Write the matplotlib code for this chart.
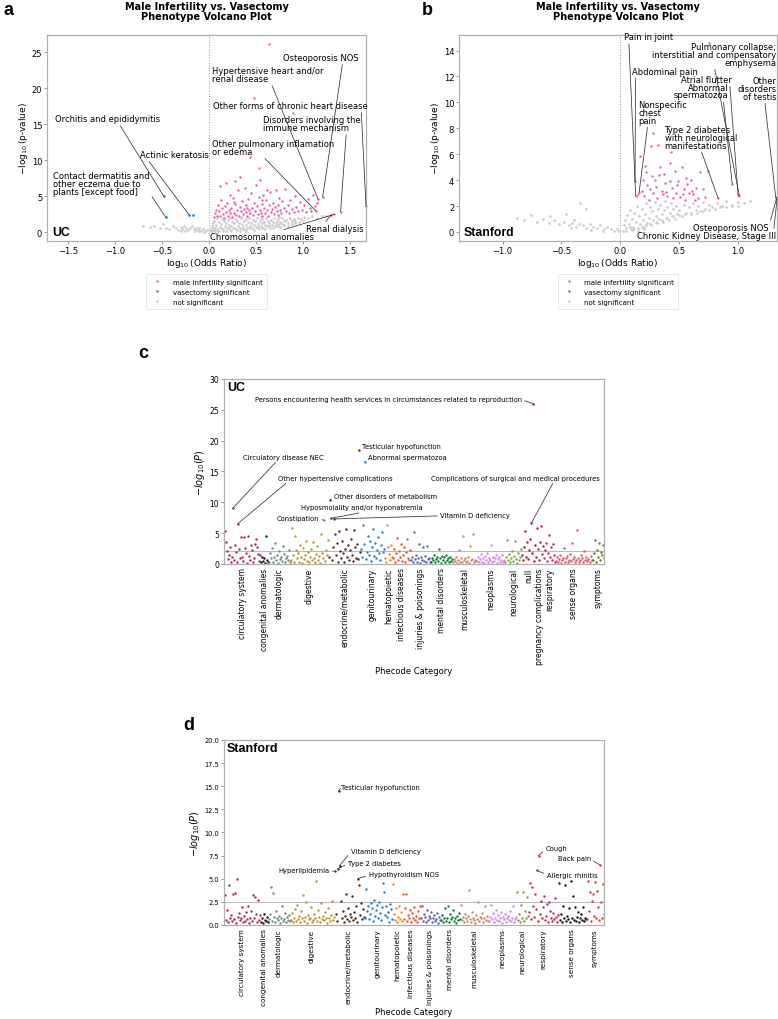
import matplotlib
matplotlib.use("Agg")
import matplotlib.pyplot as plt
import numpy as np

# ---------------- volcano data (log10 OR, -log10 p) ----------------
a_gray = [(-0.70, 0.8), (-0.62, 0.7), (-0.58, 0.9), (-0.52, 0.5), (-0.49, 1.1), (-0.45, 0.6), (-0.42, 0.4),
          (-0.38, 0.8), (-0.35, 0.5), (-0.33, 0.3), (-0.30, 0.7), (-0.28, 0.4), (-0.26, 0.9), (-0.24, 0.6),
          (-0.22, 0.3), (-0.20, 0.5), (-0.18, 0.8), (-0.16, 0.4), (-0.14, 0.6), (-0.12, 0.3), (-0.10, 0.5),
          (-0.08, 0.2), (-0.06, 0.4), (-0.04, 0.1), (-0.02, 0.3), (-0.30, 0.2), (-0.25, 0.15), (-0.15, 0.1),
          (-0.10, 0.2), (-0.05, 0.05),
          (0.01, 0.1), (0.02, 0.4), (0.03, 0.8), (0.04, 1.2), (0.05, 0.3), (0.06, 1.6), (0.07, 0.6), (0.08, 1.0),
          (0.09, 1.9), (0.10, 0.2), (0.11, 1.4), (0.12, 0.7), (0.13, 1.1), (0.14, 1.8), (0.15, 0.4), (0.16, 1.5),
          (0.17, 0.9), (0.18, 1.3), (0.19, 0.5), (0.20, 1.7), (0.21, 1.0), (0.22, 0.3), (0.23, 1.9), (0.24, 0.8),
          (0.25, 1.4), (0.26, 0.6), (0.27, 1.2), (0.28, 1.8), (0.29, 0.4), (0.30, 1.6), (0.31, 0.9), (0.32, 1.3),
          (0.33, 0.5), (0.34, 1.9), (0.35, 1.1), (0.36, 0.7), (0.37, 1.5), (0.38, 0.3), (0.39, 1.8), (0.40, 1.0),
          (0.41, 0.6), (0.42, 1.4), (0.43, 1.9), (0.44, 0.8), (0.45, 1.2), (0.46, 0.5), (0.47, 1.7), (0.48, 1.0),
          (0.49, 1.5), (0.50, 0.7), (0.51, 1.9), (0.52, 1.1), (0.53, 0.4), (0.54, 1.6), (0.55, 0.9), (0.56, 1.3),
          (0.57, 1.8), (0.58, 0.6), (0.59, 1.4), (0.60, 1.0), (0.61, 1.9), (0.62, 0.8), (0.63, 1.5), (0.64, 1.2),
          (0.65, 0.6), (0.66, 1.7), (0.67, 1.0), (0.68, 1.4), (0.69, 1.9), (0.70, 0.9), (0.71, 1.3), (0.72, 1.6),
          (0.73, 1.1), (0.74, 1.8), (0.75, 0.8), (0.76, 1.4), (0.77, 1.2), (0.78, 1.9), (0.79, 1.0), (0.80, 1.5),
          (0.82, 1.7), (0.84, 1.3), (0.86, 1.9), (0.88, 1.5), (0.90, 1.8), (0.92, 1.6), (0.95, 2.0), (0.98, 1.8),
          (1.01, 2.1), (1.05, 1.9), (1.10, 2.2), (1.15, 2.0), (1.20, 2.3), (1.25, 2.2), (0.03, 0.2), (0.05, 0.6),
          (0.07, 0.1), (0.09, 0.4), (0.11, 0.2), (0.13, 0.5), (0.15, 0.1), (0.18, 0.2), (0.21, 0.6), (0.24, 0.2),
          (0.27, 0.5), (0.30, 0.3), (0.33, 0.1), (0.36, 0.4), (0.40, 0.2), (0.44, 0.5), (0.48, 0.3), (0.52, 0.7),
          (0.56, 0.5), (0.60, 0.4), (0.64, 0.8), (0.68, 0.6), (0.72, 0.9), (0.76, 0.7), (0.80, 1.0), (0.84, 0.9),
          (0.88, 1.1), (0.92, 1.2), (0.96, 1.4), (1.00, 1.5), (0.35, 2.1), (0.55, 2.0), (0.75, 2.1), (0.15, 2.0)]

a_pink = [(0.64, 26.1), (0.48, 18.6), (0.89, 16.6), (0.44, 10.4), (0.53, 8.9), (0.54, 7.3), (0.12, 6.4), (0.28, 7.1),
          (0.05, 2.1), (0.07, 2.6), (0.08, 3.1), (0.09, 2.3), (0.10, 3.8), (0.11, 2.9), (0.12, 2.2), (0.13, 4.5),
          (0.14, 3.3), (0.15, 2.5), (0.16, 2.0), (0.17, 3.6), (0.18, 2.8), (0.19, 4.1), (0.20, 2.3), (0.21, 3.0),
          (0.22, 5.2), (0.23, 2.6), (0.24, 3.4), (0.25, 2.1), (0.26, 4.8), (0.27, 2.7), (0.28, 3.9), (0.29, 2.4),
          (0.30, 3.1), (0.31, 5.8), (0.32, 2.2), (0.33, 3.5), (0.34, 2.9), (0.35, 4.3), (0.36, 2.5), (0.37, 3.2),
          (0.38, 6.1), (0.39, 2.8), (0.40, 3.7), (0.41, 2.3), (0.42, 4.6), (0.43, 3.0), (0.44, 2.6), (0.45, 5.4),
          (0.46, 3.3), (0.47, 2.4), (0.48, 4.0), (0.49, 2.9), (0.50, 6.6), (0.51, 3.6), (0.52, 2.5), (0.53, 4.9),
          (0.54, 3.1), (0.55, 2.7), (0.56, 3.9), (0.57, 2.3), (0.58, 5.1), (0.59, 3.4), (0.60, 2.6), (0.61, 4.4),
          (0.62, 3.0), (0.63, 2.2), (0.64, 3.7), (0.65, 5.6), (0.66, 2.8), (0.67, 3.2), (0.68, 4.1), (0.69, 2.5),
          (0.70, 3.5), (0.71, 5.9), (0.72, 2.9), (0.73, 3.8), (0.74, 2.4), (0.75, 4.7), (0.76, 3.1), (0.77, 2.7),
          (0.78, 4.3), (0.80, 3.4), (0.81, 6.0), (0.82, 2.9), (0.84, 3.7), (0.85, 2.6), (0.86, 4.5), (0.88, 3.2),
          (0.90, 2.8), (0.92, 5.0), (0.93, 3.5), (0.95, 2.9), (0.97, 4.2), (0.99, 3.1), (1.01, 3.8), (1.03, 2.8),
          (1.05, 4.6), (1.07, 3.3), (1.09, 2.9), (1.11, 5.2), (1.13, 3.6), (1.15, 4.1), (0.18, 6.8), (0.33, 7.6),
          (0.62, 5.9), (0.27, 4.2), (0.41, 3.3), (0.57, 4.5)]

a_blue = [(-0.17, 2.35)]

# labelled UC volcano points: name, group, x, y
a_lab_names = ["Osteoporosis NOS", "Hypertensive heart and/or\nrenal disease",
               "Other forms of chronic heart disease", "Disorders involving the\nimmune mechanism",
               "Other pulmonary inflamation\nor edema", "Renal dialysis", "Chromosomal anomalies",
               "Orchitis and epididymitis", "Actinic keratosis",
               "Contact dermatitis and\nother eczema due to\nplants [except food]"]
a_lab_group = ["m", "m", "m", "m", "m", "m", "m", "v", "v", "v"]
a_lab_x = [1.21, 1.16, 1.67, 1.40, 1.14, 1.30, 1.33, -0.48, -0.21, -0.46]
a_lab_y = [4.9, 4.6, 3.6, 2.8, 2.9, 2.4, 2.45, 5.0, 2.4, 2.1]

b_gray = [(-0.88, 1.1), (-0.82, 0.9), (-0.76, 1.3), (-0.71, 0.8), (-0.66, 1.0), (-0.61, 0.7), (-0.56, 0.9),
          (-0.52, 0.6), (-0.48, 0.8), (-0.44, 0.5), (-0.41, 0.7), (-0.38, 0.4), (-0.35, 0.6), (-0.32, 0.5),
          (-0.29, 0.3), (-0.26, 0.6), (-0.23, 0.4), (-0.20, 0.3), (-0.17, 0.5), (-0.14, 0.2), (-0.11, 0.4),
          (-0.08, 0.2), (-0.05, 0.1), (-0.03, 0.2), (-0.01, 0.05), (-0.34, 2.2), (-0.29, 1.8), (-0.46, 1.4),
          (-0.60, 1.2), (-0.39, 0.9), (-0.25, 0.15), (-0.15, 0.1), (-0.42, 0.3),
          (0.02, 0.1), (0.03, 0.5), (0.04, 0.9), (0.05, 0.3), (0.06, 1.3), (0.07, 0.6), (0.08, 1.7), (0.09, 0.2),
          (0.10, 1.0), (0.11, 0.4), (0.12, 1.5), (0.13, 0.8), (0.14, 2.0), (0.15, 0.3), (0.16, 1.2), (0.17, 0.6),
          (0.18, 1.8), (0.19, 0.9), (0.20, 0.4), (0.21, 1.4), (0.22, 2.2), (0.23, 0.7), (0.24, 1.1), (0.25, 1.9),
          (0.26, 0.5), (0.27, 1.6), (0.28, 0.9), (0.29, 2.3), (0.30, 1.2), (0.31, 0.7), (0.32, 1.8), (0.33, 1.0),
          (0.34, 2.1), (0.35, 1.4), (0.36, 0.8), (0.37, 1.7), (0.38, 2.4), (0.39, 1.1), (0.40, 1.9), (0.41, 0.9),
          (0.42, 1.5), (0.43, 2.2), (0.44, 1.2), (0.45, 1.8), (0.46, 1.0), (0.47, 2.0), (0.48, 1.4), (0.50, 1.7),
          (0.52, 1.2), (0.54, 2.1), (0.56, 1.5), (0.58, 1.9), (0.60, 1.4), (0.62, 2.2), (0.64, 1.7), (0.66, 2.0),
          (0.68, 1.6), (0.70, 2.3), (0.72, 1.8), (0.75, 2.1), (0.78, 1.9), (0.82, 2.2), (0.86, 2.0), (0.90, 2.4),
          (0.95, 2.1), (1.00, 2.3), (1.05, 2.2), (1.10, 2.4), (0.25, 0.6), (0.30, 0.8), (0.35, 0.9), (0.40, 1.1),
          (0.45, 1.2), (0.50, 1.3), (0.55, 1.4), (0.60, 1.5), (0.65, 1.5), (0.70, 1.6), (0.75, 1.7), (0.80, 1.8),
          (0.85, 1.9), (0.90, 1.9), (0.95, 2.0), (1.00, 2.0), (0.05, 0.05), (0.10, 0.15), (0.15, 0.1), (0.20, 0.2),
          (0.08, 0.4), (0.12, 0.2), (0.18, 0.35), (0.22, 0.5)]

b_pink = [(0.75, 14.6), (0.41, 12.3), (0.275, 7.6), (0.32, 6.7), (0.26, 6.6), (0.43, 6.2), (0.17, 5.9), (0.21, 5.1),
          (0.22, 4.6), (0.42, 5.3), (0.52, 5.0), (0.46, 4.7), (0.37, 4.5), (0.60, 4.0), (0.68, 4.6), (0.74, 4.7),
          (0.19, 4.0), (0.23, 3.6), (0.25, 3.3), (0.28, 3.0), (0.30, 3.5), (0.33, 4.4), (0.35, 3.2), (0.38, 3.8),
          (0.40, 2.8), (0.44, 3.4), (0.47, 3.0), (0.49, 3.9), (0.51, 2.7), (0.54, 3.3), (0.56, 4.2), (0.58, 3.0),
          (0.62, 2.9), (0.64, 3.4), (0.66, 2.6), (0.70, 3.3), (0.72, 2.7), (0.18, 3.2), (0.20, 2.8), (0.24, 2.5),
          (0.27, 4.3), (0.31, 2.6), (0.36, 2.9), (0.39, 3.1), (0.45, 2.6), (0.48, 3.6), (0.55, 2.5), (0.57, 3.7),
          (0.61, 3.2), (0.15, 2.9), (0.34, 5.0), (0.29, 4.0), (0.53, 2.9), (0.63, 2.5), (0.42, 3.9)]

b_lab_names = ["Pain in joint", "Abdominal pain", "Nonspecific\nchest\npain",
               "Type 2 diabetes\nwith neurological\nmanifestations",
               "Pulmonary collapse;\ninterstitial and compensatory\nemphysema", "Atrial flutter",
               "Abnormal\nspermatozoa", "Other\ndisorders\nof testis", "Osteoporosis NOS",
               "Chronic Kidney Disease, Stage III"]
b_lab_x = [0.13, 0.125, 0.16, 0.83, 1.01, 1.00, 0.95, 1.32, 1.33, 1.33]
b_lab_y = [2.8, 3.9, 3.1, 2.6, 2.8, 2.85, 3.7, 2.6, 2.7, 2.5]

# ---------------- Manhattan data (-log10 P per phecode, by category) ----------------
uc_categories = ["circulatory system", "congenital anomalies", "dermatologic", "digestive",
                 "endocrine/metabolic", "genitourinary", "hematopoietic", "infectious diseases",
                 "injuries & poisonings", "mental disorders", "musculoskeletal", "neoplasms",
                 "neurological", "null", "pregnancy complications", "respiratory", "sense organs", "symptoms"]
uc_values = [
    [5.4, 3.5, 2.1, 0.8, 1.5, 2.8, 0.4, 1.2, 9.0, 0.6, 3.1, 1.9, 0.3, 6.5, 2.4, 0.9, 4.3, 1.1, 0.5, 4.3, 2.6, 1.7,
     0.2, 4.6, 1.3, 0.7, 3.0, 2.2, 0.4, 1.0, 3.3, 4.1, 2.7, 1.6, 0.5, 1.4],
    [0.3, 1.2, 0.5, 0.9, 0.2, 4.5, 0.7, 0.4],
    [0.4, 1.8, 0.9, 2.6, 0.3, 1.2, 3.4, 0.7, 1.5, 0.2, 2.1, 0.8, 1.1, 0.5, 2.9, 1.6, 0.4, 0.9, 1.3, 0.6, 2.2, 0.3],
    [0.6, 5.8, 1.4, 0.3, 4.5, 2.2, 0.9, 1.7, 0.4, 3.1, 1.1, 0.2, 2.6, 0.8, 1.5, 3.7, 0.5, 1.9, 0.3, 1.2, 2.4, 0.7,
     3.5, 1.0, 0.4, 1.6, 2.9, 0.6, 1.3, 0.2, 4.8, 1.8, 0.9, 7.1, 0.5, 2.3, 1.4, 3.9],
    [1.2, 10.3, 7.4, 0.6, 2.8, 7.3, 4.8, 1.5, 3.4, 0.4, 5.4, 2.1, 0.9, 3.7, 1.8, 0.3, 2.5, 5.6, 1.1, 3.0, 0.7, 2.2,
     4.1, 1.4, 0.5, 5.5, 2.7, 1.0, 3.3, 0.8, 18.4, 1.9],
    [2.4, 1.1, 6.3, 3.2, 16.6, 0.8, 2.0, 4.6, 1.5, 3.8, 0.5, 2.7, 5.6, 1.3, 3.4, 0.9, 2.2, 4.3, 1.7, 0.6, 3.0, 5.2,
     1.9, 2.5],
    [1.0, 0.4, 6.4, 2.8, 1.6, 0.7, 3.1, 1.2],
    [0.9, 2.4, 0.4, 1.7, 4.2, 0.7, 2.1, 1.2, 3.3, 0.5, 1.5, 2.8, 0.3, 1.9, 4.0, 1.0, 0.6, 2.3],
    [0.6, 1.2, 0.3, 5.2, 0.8, 1.5, 0.4, 0.9, 3.2, 0.2, 1.1, 0.7, 2.8, 0.5, 1.3, 0.3, 2.9, 0.8, 1.0, 0.4],
    [0.4, 1.0, 0.6, 1.4, 0.3, 0.8, 1.2, 0.5, 2.5, 0.9, 0.2, 1.3, 0.7, 1.1, 0.4, 1.5, 0.6, 0.9, 0.3, 1.2, 0.5, 0.8],
    [0.3, 0.8, 0.5, 1.2, 0.2, 0.6, 2.2, 0.4, 0.9, 0.3, 4.5, 0.7, 1.0, 0.4, 0.5, 1.1, 0.2, 2.9, 0.6, 0.8, 4.9, 0.3,
     0.7, 0.5],
    [0.5, 1.1, 0.3, 0.8, 1.6, 0.4, 0.9, 0.2, 1.3, 0.6, 1.8, 0.4, 1.0, 0.7, 3.0, 0.3, 1.2, 0.5, 0.9, 1.5, 0.2, 0.8,
     1.1, 0.4, 0.6, 1.4, 0.3, 0.7],
    [0.4, 1.2, 3.9, 0.7, 1.6, 0.3, 0.9, 2.1, 0.5, 1.3, 3.7, 0.8, 0.2, 1.7, 0.6, 1.1, 2.4],
    [1.4, 0.6, 2.7, 5.4, 1.1, 3.6, 0.8, 2.2, 4.1, 6.6, 1.7, 26.0, 0.5, 3.1],
    [1.2, 5.9, 2.4, 0.7, 3.5, 6.1, 1.6, 2.9],
    [0.9, 2.3, 3.4, 0.5, 1.8, 4.7, 1.2, 2.8, 0.6, 3.3, 1.5, 0.4],
    [0.5, 1.1, 0.3, 0.8, 1.4, 0.2, 0.7, 1.0, 2.6, 0.4, 0.9, 1.3, 0.3, 0.6, 1.6, 0.5, 3.4, 0.8, 1.2, 0.4, 0.7, 5.5,
     1.0, 0.3, 0.6, 1.5, 0.9, 0.4, 2.1, 0.7, 1.1, 0.5, 0.8, 0.3, 1.3, 0.6],
    [0.7, 1.8, 3.9, 0.4, 2.3, 1.1, 3.4, 0.6, 2.0, 1.5, 3.0, 0.9],
]
uc_colors = ["#b22a45", "#1b1b1b", "#6e8b7b", "#b8952e", "#4b2a22", "#1f7fd6", "#f08a1c", "#e4572e",
             "#5a64a8", "#117a3a", "#c98a64", "#d586e8", "#82a03a", "#a01c34", "#b8203f", "#c8284a",
             "#e2566a", "#5f7a2e"]
uc_threshold = 2.1
# (label, category, index within category)
uc_labels = [("Persons encountering health services in circumstances related to reproduction", 13, 11),
             ("Testicular hypofunction", 4, 30), ("Abnormal spermatozoa", 5, 4),
             ("Circulatory disease NEC", 0, 8), ("Other hypertensive complications", 0, 13),
             ("Other disorders of metabolism", 4, 1), ("Hyposmolality and/or hyponatremia", 4, 2),
             ("Constipation", 3, 33), ("Vitamin D deficiency", 4, 5),
             ("Complications of surgical and medical procedures", 13, 9)]

st_categories = ["circulatory system", "congenital anomalies", "dermatologic", "digestive",
                 "endocrine/metabolic", "genitourinary", "hematopoietic", "infectious diseases",
                 "injuries & poisonings", "mental disorders", "musculoskeletal", "neoplasms",
                 "neurological", "respiratory", "sense organs", "symptoms"]
st_values = [
    [3.2, 0.5, 1.6, 0.3, 4.3, 0.8, 1.1, 0.4, 3.3, 0.6, 3.5, 0.2, 5.0, 0.9, 1.3, 0.5, 0.7, 1.9, 0.3, 1.0, 0.4, 1.4,
     0.6, 2.0, 0.2, 0.8, 1.5, 0.4, 3.2, 0.7, 3.0, 1.2, 0.3, 2.7, 0.5, 1.1],
    [0.3, 0.8, 0.2, 1.2, 0.5, 0.4, 0.9, 0.3],
    [0.6, 1.2, 4.1, 0.4, 3.5, 0.9, 0.3, 1.5, 0.7, 0.5, 1.0, 0.2, 0.8, 2.1, 0.4, 0.6, 1.3, 0.3, 0.9, 0.5, 1.1, 0.4],
    [0.5, 1.3, 0.3, 0.8, 1.7, 0.4, 2.2, 0.6, 1.0, 0.3, 1.5, 0.7, 3.2, 0.4, 0.9, 2.5, 0.2, 1.1, 0.6, 0.8, 1.9, 0.3,
     0.5, 1.2, 0.7, 4.8, 0.4, 1.6, 0.9, 0.3, 2.4, 0.6, 1.0, 0.5, 1.4, 0.8, 0.2, 1.8, 0.7, 0.4, 1.1, 2.6, 0.5, 0.9],
    [5.8, 1.2, 0.4, 6.1, 14.5, 6.4, 2.6, 0.8, 1.5, 0.3, 1.0, 3.3, 0.6, 1.8, 0.4, 1.2, 0.9, 3.1, 0.5, 1.4, 0.7, 2.1,
     0.3, 5.0, 4.3, 1.1, 2.4, 0.6, 1.7, 0.9],
    [0.8, 3.9, 1.5, 2.1, 0.6, 1.2, 2.4, 1.8, 0.4, 2.7, 1.0, 1.6, 2.2, 0.7, 2.5, 1.3, 0.5, 1.9, 4.5, 3.6, 1.1, 2.0,
     0.9, 1.4, 0.3, 2.3, 1.7, 0.6],
    [4.4, 1.2, 0.5, 1.8, 0.3, 0.9, 2.0, 0.6, 1.4, 0.4],
    [3.4, 0.6, 1.8, 3.4, 0.4, 1.1, 0.8, 1.6, 0.3, 1.3, 0.7, 1.9, 0.5, 1.0, 0.3, 1.5, 0.8, 2.0],
    [0.7, 2.1, 0.4, 1.2, 0.9, 0.3, 1.6, 0.5, 1.0, 0.7, 1.4, 0.3, 0.8, 1.1, 0.4, 0.6, 1.3, 0.2, 0.9, 0.5],
    [0.5, 1.1, 0.3, 0.8, 1.8, 0.4, 0.7, 2.0, 0.3, 1.2, 0.6, 0.9, 1.6, 0.4, 0.8, 0.2, 1.0, 0.5, 1.3, 0.6],
    [2.2, 0.5, 0.9, 0.3, 1.2, 0.7, 0.4, 1.0, 3.8, 0.6, 0.3, 1.4, 0.8, 0.5, 0.2, 1.1, 0.6, 2.5, 0.4, 0.9, 0.7, 1.3,
     0.3, 0.8, 2.1, 0.5, 1.0, 0.4],
    [0.4, 0.9, 2.2, 0.6, 1.3, 0.3, 0.8, 1.6, 0.5, 1.1, 0.4, 0.7, 1.4, 0.2, 0.9, 0.6, 1.2, 0.3, 0.8, 1.0, 0.5, 1.5,
     0.4, 0.7, 2.1, 0.3, 0.6, 0.9],
    [3.6, 0.5, 1.2, 0.3, 2.2, 0.8, 3.6, 0.4, 1.5, 0.7, 3.0, 1.0],
    [1.4, 4.5, 0.6, 4.1, 2.0, 0.9, 3.4, 1.7, 5.9, 0.4, 7.5, 1.2, 2.6, 0.7, 1.9, 3.1, 0.5, 1.0, 2.3, 0.3, 2.5, 1.5,
     0.8, 0.4, 1.3, 0.6, 2.9, 0.9, 0.3, 1.1],
    [4.5, 0.5, 1.2, 0.3, 2.0, 0.7, 4.3, 0.4, 1.0, 0.6, 1.8, 0.3, 4.7, 0.8, 3.1, 0.5, 1.9, 0.4, 0.9, 1.4, 0.3, 0.7,
     1.2, 0.5, 1.9, 0.4, 0.8, 0.6],
    [0.6, 4.7, 1.5, 3.6, 0.4, 2.6, 3.4, 1.0, 4.6, 0.8, 3.7, 1.9, 0.5, 6.5, 2.5, 0.7, 4.4, 1.2],
]
st_colors = ["#b22a45", "#1b1b1b", "#6e8b7b", "#b8952e", "#4b2a22", "#1f7fd6", "#f08a1c", "#e4572e",
             "#5a64a8", "#117a3a", "#c98a64", "#d586e8", "#82a03a", "#c8284a", "#151515", "#d83a3a"]
st_threshold = 2.5
st_labels = [("Testicular hypofunction", 4, 4), ("Vitamin D deficiency", 4, 5), ("Type 2 diabetes", 4, 3),
             ("Hyperlipidemia", 4, 0), ("Hypothyroidism NOS", 4, 23), ("Cough", 13, 10),
             ("Back pain", 15, 13), ("Allergic rhinitis", 13, 8)]

PINK = "#ee5fa5"
BLUE = "#2a8bd8"
GRAY = "#cfcfcf"
SPINE = "#b0b0b0"


def style_axes(ax, fs):
    for s in ax.spines.values():
        s.set_color(SPINE)
        s.set_linewidth(0.9)
    ax.tick_params(labelsize=fs, length=2, width=0.6, color="#888888", pad=1.5)


def volcano(ax, gray, pink, blue, lab_x, lab_y, lab_groups, cohort):
    g = np.array(gray)
    p = np.array(pink)
    ax.scatter(g[:, 0], g[:, 1], s=4, color=GRAY, lw=0, zorder=1)
    ax.scatter(p[:, 0], p[:, 1], s=3, color=PINK, lw=0, zorder=2)
    lx = np.array(lab_x)
    ly = np.array(lab_y)
    grp = np.array(lab_groups)
    ax.scatter(lx[grp == "m"], ly[grp == "m"], s=3, color=PINK, lw=0, zorder=2, clip_on=False)
    bx = list(lx[grp == "v"])
    by = list(ly[grp == "v"])
    if blue:
        b = np.array(blue)
        bx += list(b[:, 0])
        by += list(b[:, 1])
    ax.scatter(bx, by, s=4, color=BLUE, lw=0, zorder=2)
    ax.axvline(0, color="#999999", ls=":", lw=0.7, zorder=0)
    ax.set_xlabel(r"$\log_{10}$(Odds Ratio)", fontsize=6.5, labelpad=1)
    ax.set_ylabel(r"$-\log_{10}$(p-value)", fontsize=6.5, labelpad=1)
    ax.text(0.015, 0.015, cohort, transform=ax.transAxes, fontsize=8.8, fontweight="bold",
            family="Liberation Sans", va="bottom", ha="left")
    h1 = plt.Line2D([], [], ls="", marker="o", ms=1.8, color=PINK, mew=0)
    h2 = plt.Line2D([], [], ls="", marker="o", ms=1.8, color=BLUE, mew=0)
    h3 = plt.Line2D([], [], ls="", marker="o", ms=1.8, color=GRAY, mew=0)
    leg = ax.legend([h1, h2, h3], ["male infertility significant", "vasectomy significant", "not significant"],
                    loc="upper center", bbox_to_anchor=(0.5, -0.145), fontsize=5, frameon=True,
                    handletextpad=1.2, borderpad=0.6, labelspacing=0.6)
    leg.get_frame().set_edgecolor("#dddddd")
    leg.get_frame().set_linewidth(0.6)


def annotate(ax, text, xy, xytext, ha, relpos, fs):
    ax.annotate(text, xy=xy, xytext=xytext, ha=ha, va="center", fontsize=fs, linespacing=0.85,
                arrowprops=dict(arrowstyle="-", color="#333333", lw=0.55, relpos=relpos,
                                shrinkA=0, shrinkB=0), zorder=5, annotation_clip=False)


def manhattan(ax, cats, values, colors, thr, labels, label_specs, ylim, yticks, fs_tick, fs_cat):
    offset = 0
    centers = []
    starts = []
    for vals, col in zip(values, colors):
        x = offset + np.arange(len(vals))
        ax.scatter(x, vals, s=3, color=col, lw=0, zorder=2)
        starts.append(offset)
        centers.append(offset + (len(vals) - 1) / 2)
        offset += len(vals)
    ax.axhline(thr, color="#bbbbbb", lw=0.8, zorder=1)
    ax.set_xlim(-0.5, offset - 0.5)
    ax.set_ylim(*ylim)
    ax.set_yticks(yticks)
    ax.set_xticks(centers)
    style_axes(ax, fs_tick)
    ax.set_xticklabels(cats, rotation=90, fontsize=fs_cat)
    ax.set_xlabel("Phecode Category", fontsize=6, labelpad=1.5)
    ax.set_ylabel(r"$-log_{10}(P)$", fontsize=7, labelpad=2)
    ax.tick_params(axis="x", length=0, pad=2.5, labelsize=fs_cat)
    for (name, ci, k), (tx, ty, rp) in zip(labels, label_specs):
        xy = (starts[ci] + k, values[ci][k])
        annotate(ax, name, xy, (tx, ty), "left", rp, 4.9)


fig = plt.figure(figsize=(7.78, 10.2), dpi=100)

# ---- panel a ----
ax_a = fig.add_axes([0.0604, 0.7627, 0.41, 0.202])
volcano(ax_a, a_gray, a_pink, a_blue, a_lab_x, a_lab_y, a_lab_group, "UC")
ax_a.set_xlim(-1.72, 1.67)
ax_a.set_ylim(-1.25, 27.4)
ax_a.set_xticks([-1.5, -1.0, -0.5, 0.0, 0.5, 1.0, 1.5])
ax_a.set_yticks([0, 5, 10, 15, 20, 25])
style_axes(ax_a, 6)
a_text = [((1.19, 24.3), "center", (0.79, 0.0)), ((0.03, 21.9), "left", (0.52, 0.2)),
          ((0.04, 17.6), "left", (0.96, 0.1)), ((0.58, 15.1), "left", (0.85, 0.1)),
          ((0.03, 11.8), "left", (0.38, 0.25)), ((1.34, 0.45), "center", (0.3, 1.0)),
          ((0.01, -0.65), "left", (0.6, 0.9)), ((-1.63, 15.8), "left", (0.6, 0.0)),
          ((-0.73, 10.8), "left", (0.1, 0.0)), ((-1.66, 6.7), "left", (1.0, 0.15))]
for name, x, y, (xt, ha, rp) in zip(a_lab_names, a_lab_x, a_lab_y, a_text):
    annotate(ax_a, name, (x, y), xt, ha, rp, 6)

# ---- panel b ----
ax_b = fig.add_axes([0.590, 0.7627, 0.4087, 0.202])
volcano(ax_b, b_gray, b_pink, [], b_lab_x, b_lab_y, ["m"] * len(b_lab_x), "Stanford")
ax_b.set_xlim(-1.37, 1.33)
ax_b.set_ylim(-0.7, 15.2)
ax_b.set_xticks([-1.0, -0.5, 0.0, 0.5, 1.0])
ax_b.set_yticks([0, 2, 4, 6, 8, 10, 12, 14])
style_axes(ax_b, 6)
b_text = [((0.03, 15.08), "left", (0.1, 0.0)), ((0.10, 12.42), "left", (0.05, 0.0)),
          ((0.15, 9.25), "left", (0.2, 0.0)), ((0.375, 7.32), "left", (0.5, 0.0)),
          ((1.325, 13.72), "right", (0.5, 0.0)), ((0.95, 11.8), "right", (0.95, 0.0)),
          ((0.92, 10.88), "right", (0.9, 0.0)), ((1.325, 11.1), "right", (0.7, 0.0)),
          ((1.26, 0.35), "right", (1.0, 0.6)), ((1.325, -0.3), "right", (0.98, 1.0))]
for name, x, y, (xt, ha, rp) in zip(b_lab_names, b_lab_x, b_lab_y, b_text):
    annotate(ax_b, name, (x, y), xt, ha, rp, 6)

for ax in (ax_a, ax_b):
    cx = (ax.get_position().x0 + ax.get_position().x1) / 2
    fig.text(cx, 0.9985, "Male Infertility vs. Vasectomy\nPhenotype Volcano Plot", ha="center", va="top",
             fontsize=7, fontweight="bold", linespacing=1.0)

# ---- panel c ----
ax_c = fig.add_axes([0.288, 0.4461, 0.4884, 0.1814])
c_text = [(30, 26.8, (1.0, 0.3)), (137, 19.2, (0.0, 0.3)), (143, 17.3, (0.0, 0.3)), (18, 17.4, (0.44, 0.0)),
          (53, 14.0, (0.1, 0.0)), (109, 11.0, (0.0, 0.3)), (76, 9.2, (0.6, 0.0)), (52, 7.4, (1.0, 0.4)),
          (215, 7.9, (0.0, 0.4)), (206, 14.0, (0.73, 0.0))]
manhattan(ax_c, uc_categories, uc_values, uc_colors, uc_threshold, uc_labels, c_text,
          (0, 30), [0, 5, 10, 15, 20, 25, 30], 5.5, 5.5)
ax_c.text(0.008, 0.99, "UC", transform=ax_c.transAxes, fontsize=9, fontweight="bold",
          family="Liberation Sans", va="top", ha="left")

# ---- panel d ----
ax_d = fig.add_axes([0.288, 0.0922, 0.4884, 0.1814])
d_text = [(116, 14.9, (0.0, 0.3)), (126, 8.0, (0.0, 0.3)), (123, 6.7, (0.0, 0.3)), (54, 5.9, (1.0, 0.4)),
          (144, 5.5, (0.0, 0.3)), (321, 8.3, (0.0, 0.3)), (333, 7.2, (1.0, 0.3)), (322, 5.4, (0.0, 0.6))]
manhattan(ax_d, st_categories, st_values, st_colors, st_threshold, st_labels, d_text,
          (0, 20), [0, 2.5, 5, 7.5, 10, 12.5, 15, 17.5, 20], 4.8, 5.2)
ax_d.set_yticklabels(["0.0", "2.5", "5.0", "7.5", "10.0", "12.5", "15.0", "17.5", "20.0"])
ax_d.text(0.008, 0.99, "Stanford", transform=ax_d.transAxes, fontsize=9, fontweight="bold",
          family="Liberation Sans", va="top", ha="left")

# panel letters
for lx, ly, s in [(0.004, 0.998, "a"), (0.542, 0.998, "b"), (0.178, 0.662, "c"), (0.236, 0.297, "d")]:
    fig.text(lx, ly, s, fontsize=13, fontweight="bold", family="Liberation Sans", va="top", ha="left")

fig.savefig("out.png", dpi=100)
